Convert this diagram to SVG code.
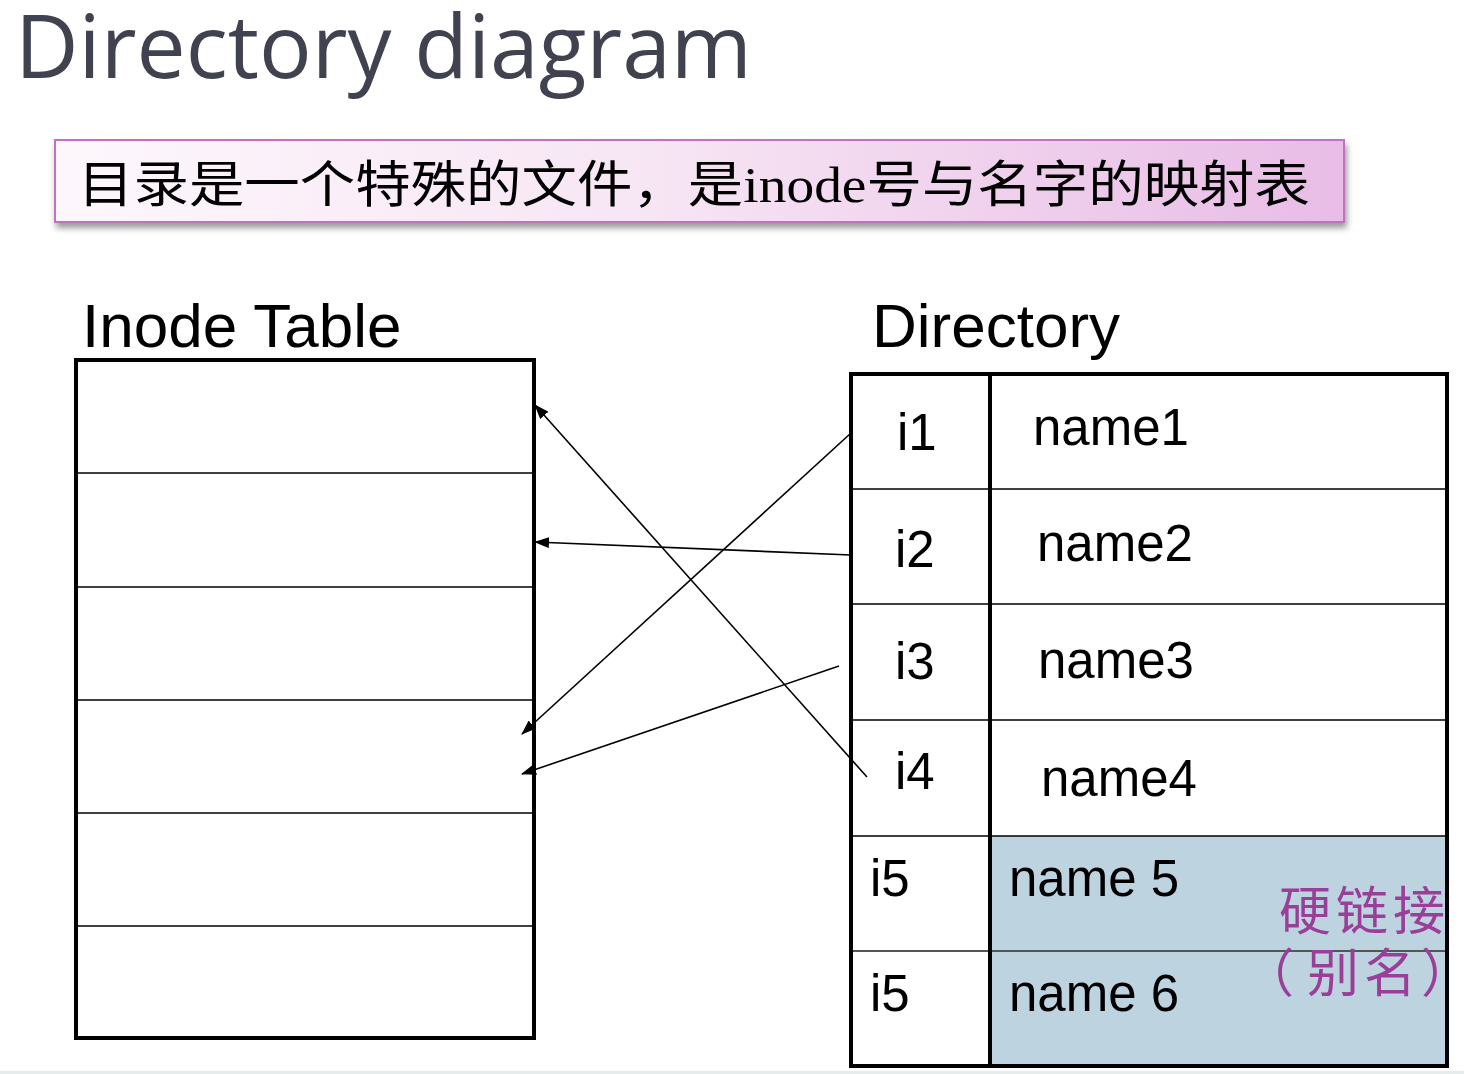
<svg xmlns="http://www.w3.org/2000/svg" width="1464" height="1074" viewBox="0 0 1464 1074">
<style>
.lbl{font-family:"Liberation Sans",Arial,sans-serif;fill:#000}
.cell{font-family:"Liberation Sans",Arial,sans-serif;font-size:51px;fill:#000}
.outer{fill:none;stroke:#000;stroke-width:4}
.row{stroke:#000;stroke-width:1.6}
.conn{stroke:#000;stroke-width:1.6;fill:none;marker-end:url(#ah)}
.cjk{font-family:"Noto Sans CJK SC",sans-serif;fill:#9a3f98;font-size:52px}
</style>
<defs>
<linearGradient id="hg" x1="0" y1="0" x2="1" y2="0">
<stop offset="0" stop-color="#fdf7fc"/>
<stop offset="0.45" stop-color="#f7e6f4"/>
<stop offset="1" stop-color="#e8bce6"/>
</linearGradient>
<filter id="sh" x="-5%" y="-20%" width="110%" height="150%">
<feGaussianBlur in="SourceAlpha" stdDeviation="3"/>
<feOffset dx="2" dy="5"/>
<feComponentTransfer><feFuncA type="linear" slope="0.4"/></feComponentTransfer>
<feMerge><feMergeNode/><feMergeNode in="SourceGraphic"/></feMerge>
</filter>
<marker id="ah" markerWidth="15" markerHeight="11" refX="14" refY="5.5" orient="auto" markerUnits="userSpaceOnUse">
<path d="M0,0 L15,5.5 L0,11 z" fill="#000"/>
</marker>
<clipPath id="dirclip"><rect x="990" y="836" width="457" height="230"/></clipPath>
</defs>
<rect width="1464" height="1074" fill="#fff"/>
<rect x="0" y="1071" width="1464" height="3" fill="#e6ecec"/>

<g id="title">
<text x="15" y="78" font-family="'Open Sans','DejaVu Sans',sans-serif" font-size="88" fill="#41424f" textLength="737" lengthAdjust="spacingAndGlyphs">Directory diagram</text>
</g>

<g id="header">
<rect x="55" y="140" width="1289" height="82" fill="url(#hg)" stroke="#c072c0" stroke-width="2" filter="url(#sh)"/>
<text x="78" y="202" font-family="'Liberation Serif','Noto Sans CJK SC',serif" font-size="50" fill="#000" textLength="1232" lengthAdjust="spacingAndGlyphs">目录是一个特殊的文件，是inode号与名字的映射表</text>
</g>

<g id="inode-table">
<text class="lbl" x="82" y="347" font-size="62">Inode Table</text>
<rect class="outer" x="76" y="360" width="458" height="678"/>
<line class="row" x1="76" y1="473" x2="534" y2="473"/>
<line class="row" x1="76" y1="587" x2="534" y2="587"/>
<line class="row" x1="76" y1="700" x2="534" y2="700"/>
<line class="row" x1="76" y1="813" x2="534" y2="813"/>
<line class="row" x1="76" y1="926" x2="534" y2="926"/>
</g>

<g id="directory">
<text class="lbl" x="872" y="347" font-size="62">Directory</text>
<rect x="990" y="836" width="457" height="230" fill="#bed3e0"/>
<line class="row" x1="851" y1="489" x2="1447" y2="489"/>
<line class="row" x1="851" y1="604" x2="1447" y2="604"/>
<line class="row" x1="851" y1="720" x2="1447" y2="720"/>
<line class="row" x1="851" y1="836" x2="1447" y2="836"/>
<line x1="851" y1="951" x2="1447" y2="951" stroke="#555" stroke-width="2"/>
<line x1="990" y1="374" x2="990" y2="1066" stroke="#000" stroke-width="4"/>
<rect class="outer" x="851" y="374" width="596" height="692"/>
<text class="cell" x="897" y="450">i1</text>
<text class="cell" x="1033" y="445">name1</text>
<text class="cell" x="895" y="567">i2</text>
<text class="cell" x="1037" y="561">name2</text>
<text class="cell" x="895" y="679">i3</text>
<text class="cell" x="1038" y="678">name3</text>
<text class="cell" x="895" y="789">i4</text>
<text class="cell" x="1041" y="796">name4</text>
<text class="cell" x="870" y="896">i5</text>
<text class="cell" x="1009" y="896">name 5</text>
<text class="cell" x="870" y="1011">i5</text>
<text class="cell" x="1009" y="1011">name 6</text>
<g clip-path="url(#dirclip)">
<text class="cjk" x="1279 1336 1393" y="930">硬链接</text>
<text class="cjk" x="1242 1307 1364 1421" y="992">（别名）</text>
</g>
<line x1="1447" y1="836" x2="1447" y2="1066" stroke="#000" stroke-width="4"/>
</g>

<g id="connectors">
<line class="conn" x1="867" y1="777" x2="535" y2="405"/>
<line class="conn" x1="851" y1="555" x2="535" y2="542"/>
<line class="conn" x1="851" y1="433" x2="522" y2="734"/>
<line class="conn" x1="839" y1="666" x2="522" y2="774"/>
</g>
</svg>
